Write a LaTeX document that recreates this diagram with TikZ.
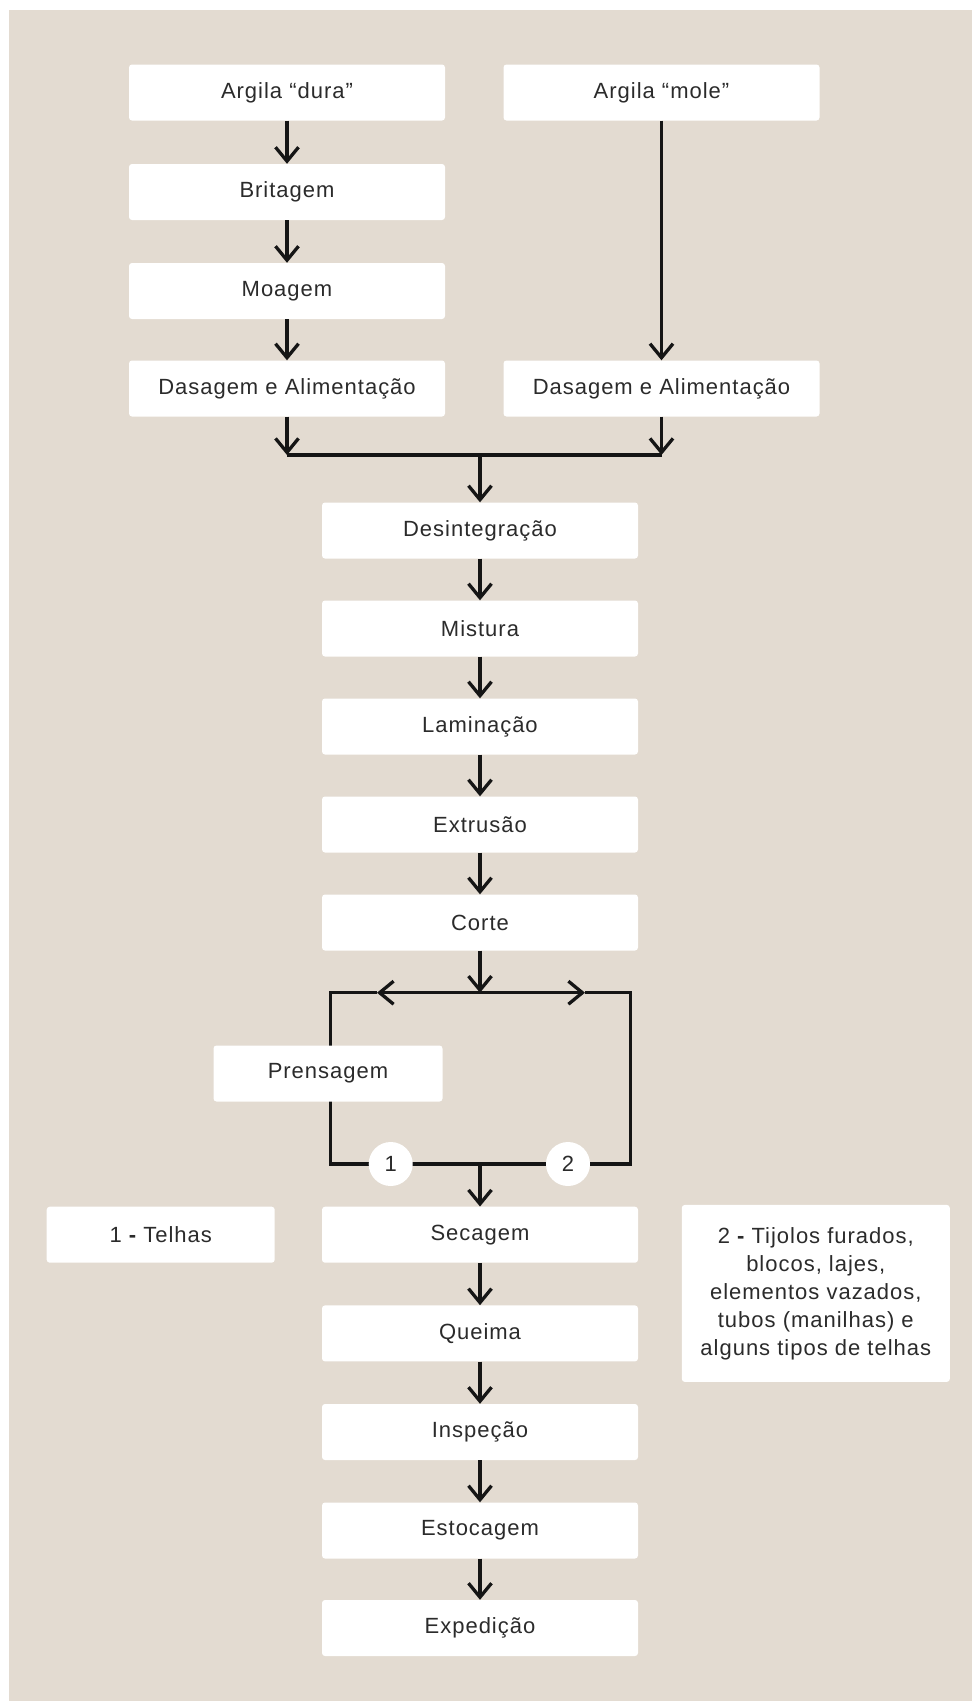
\documentclass[tikz,border=0pt]{standalone}
\usepackage{fontspec}
\setmainfont[LetterSpace=4.5]{Liberation Sans}
\usetikzlibrary{arrows.meta,backgrounds}
\definecolor{bgc}{HTML}{E3DBD1}
\definecolor{txt}{HTML}{2B2B2B}
\definecolor{ln}{HTML}{151515}
\begin{document}
\begin{tikzpicture}[x=1pt,y=-1pt,
  box/.style={fill=white, rounded corners=3pt, minimum height=56pt, inner sep=0pt,
    text=txt, font=\fontsize{22}{28}\selectfont},
  wbox/.style={box, minimum width=316pt},
  lne/.style={draw=ln, line width=3.3pt},
  arr/.style={lne, -{Straight Barb[length=14pt,width=23pt]}},
  num/.style={circle, fill=white, minimum size=44pt, inner sep=0pt, text=txt,
    font=\fontsize{22}{26}\selectfont}
]
\useasboundingbox (0,0) rectangle (972,1701);
\begin{pgfonlayer}{background}
  \fill[white] (0,0) rectangle (972,1701);
  \fill[bgc] (9,10) rectangle (972,1701);
\end{pgfonlayer}

% left column
\node[wbox] (ad) at (287,92.5) {Argila “dura”};
\node[wbox] (br) at (287,192) {Britagem};
\node[wbox] (mo) at (287,291) {Moagem};
\node[wbox] (dl) at (287,388.5) {Dasagem e Alimentação};
% right column
\node[wbox] (am) at (661.5,92.5) {Argila “mole”};
\node[wbox] (dr) at (661.5,388.5) {Dasagem e Alimentação};
% center column
\node[wbox] (de) at (480,530.5) {Desintegração};
\node[wbox] (mi) at (480,628.5) {Mistura};
\node[wbox] (la) at (480,726.5) {Laminação};
\node[wbox] (ex) at (480,824.5) {Extrusão};
\node[wbox] (co) at (480,922.5) {Corte};
\node[wbox] (se) at (480,1234.7) {Secagem};
\node[wbox] (qu) at (480,1333.4) {Queima};
\node[wbox] (in) at (480,1432) {Inspeção};
\node[wbox] (es) at (480,1530.5) {Estocagem};
\node[wbox] (xp) at (480,1628) {Expedição};
% side notes
\node[box, minimum width=228pt] (t1) at (160.7,1234.7) {1 {\bfseries -} Telhas};
\node[box, minimum width=268pt, minimum height=177pt, align=center] (t2) at (815.8,1293.4)
  {2 {\bfseries -} Tijolos furados,\\blocos, lajes,\\elementos vazados,\\tubos (manilhas) e\\alguns tipos de telhas};

% coordinates
\coordinate (mL) at (287,455);
\coordinate (mR) at (661.5,455);
\coordinate (mC) at (480,455);
\coordinate (sC) at (480,992.7);
\coordinate (sLt) at (377,992.7);
\coordinate (sRt) at (585,992.7);
\coordinate (sL) at (330.5,992.7);
\coordinate (sR) at (630.5,992.7);
\coordinate (bL) at (330.5,1164);
\coordinate (bR) at (630.5,1164);
\coordinate (bC) at (480,1164);

% loop (behind Prensagem and circles)
\begin{pgfonlayer}{background}
  \draw[lne] (sLt) -- (sL) -- (bL) -- (bR) -- (sR) -- (sRt);
\end{pgfonlayer}
\node[box, minimum width=229pt] (pr) at (328,1073.5) {Prensagem};
\node[num] (n1) at (390.7,1164) {1};
\node[num] (n2) at (568,1164) {2};

% arrows
\draw[arr] (ad.south) -- (br.north);
\draw[arr] (br.south) -- (mo.north);
\draw[arr] (mo.south) -- (dl.north);
\draw[arr] (am.south) -- (dr.north);
\draw[arr] (dl.south) -- (mL);
\draw[arr] (dr.south) -- (mR);
\draw[lne] (mL) -- (mR);
\draw[arr] (mC) -- (de.north);
\draw[arr] (de.south) -- (mi.north);
\draw[arr] (mi.south) -- (la.north);
\draw[arr] (la.south) -- (ex.north);
\draw[arr] (ex.south) -- (co.north);
\draw[arr] (co.south) -- (sC);
\draw[arr] (sC) -- (sLt);
\draw[arr] (sC) -- (sRt);
\draw[arr] (bC) -- (se.north);
\draw[arr] (se.south) -- (qu.north);
\draw[arr] (qu.south) -- (in.north);
\draw[arr] (in.south) -- (es.north);
\draw[arr] (es.south) -- (xp.north);
\end{tikzpicture}
\end{document}
